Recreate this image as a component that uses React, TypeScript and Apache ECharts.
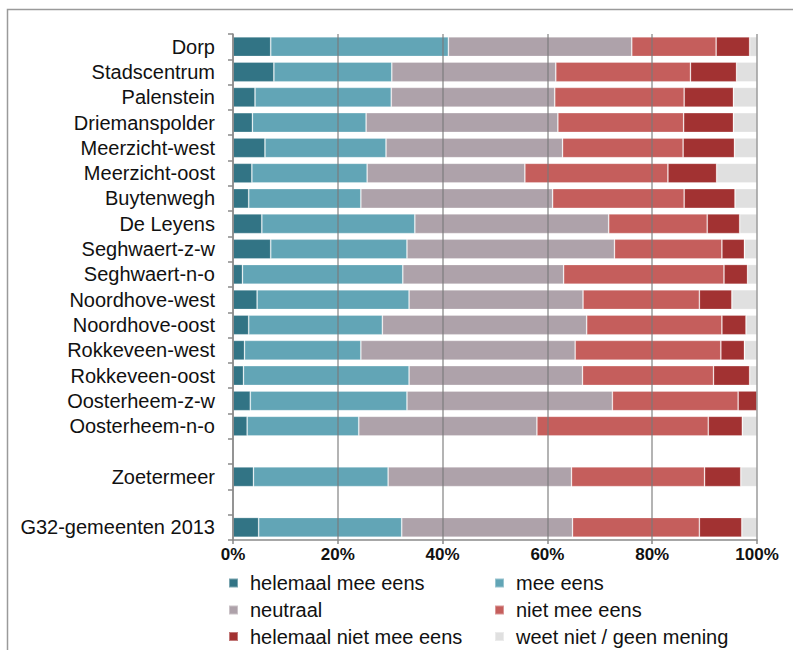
import React, { useEffect, useRef } from "react";
import * as echarts from "echarts";

const CATEGORIES = [
  "Dorp",
  "Stadscentrum",
  "Palenstein",
  "Driemanspolder",
  "Meerzicht-west",
  "Meerzicht-oost",
  "Buytenwegh",
  "De Leyens",
  "Seghwaert-z-w",
  "Seghwaert-n-o",
  "Noordhove-west",
  "Noordhove-oost",
  "Rokkeveen-west",
  "Rokkeveen-oost",
  "Oosterheem-z-w",
  "Oosterheem-n-o",
  "",
  "Zoetermeer",
  " ",
  "G32-gemeenten 2013",
];

const SERIES_NAMES = [
  "helemaal mee eens",
  "mee eens",
  "neutraal",
  "niet mee eens",
  "helemaal niet mee eens",
  "weet niet / geen mening",
];

const helemaalMeeEens = [7.2, 7.8, 4.2, 3.7, 6.1, 3.6, 3.0, 5.5, 7.2, 1.8, 4.6, 3.0, 2.2, 2.0, 3.3, 2.7, null, 3.9, null, 4.9];
const meeEens = [33.9, 22.5, 26.0, 21.7, 23.1, 22.0, 21.4, 29.2, 26.0, 30.6, 29.0, 25.5, 22.2, 31.6, 29.9, 21.3, null, 25.7, null, 27.3];
const neutraal = [35.0, 31.3, 31.2, 36.6, 33.7, 30.1, 36.6, 37.0, 39.6, 30.7, 33.2, 39.0, 40.9, 33.1, 39.2, 34.0, null, 35.0, null, 32.6];
const nietMeeEens = [16.1, 25.7, 24.7, 24.0, 23.0, 27.3, 25.1, 18.8, 20.5, 30.6, 22.2, 25.8, 27.8, 25.0, 24.0, 32.7, null, 25.4, null, 24.2];
const helemaalNietMeeEens = [6.4, 8.8, 9.4, 9.5, 9.8, 9.3, 9.7, 6.2, 4.3, 4.5, 6.2, 4.6, 4.5, 6.9, 3.6, 6.5, null, 6.9, null, 8.1];
const weetNiet = [1.4, 3.9, 4.5, 4.5, 4.3, 7.7, 4.2, 3.3, 2.4, 1.8, 4.8, 2.1, 2.4, 1.4, 0.0, 2.8, null, 3.1, null, 2.9];

const SERIES_VALUES = [helemaalMeeEens, meeEens, neutraal, nietMeeEens, helemaalNietMeeEens, weetNiet];
const COLORS = ["#327485", "#62A5B6", "#AEA2AA", "#C55E5C", "#A23232", "#E0E0E0"];

const X_TICKS = [0, 20, 40, 60, 80, 100];

const FONT = "'Liberation Sans', Arial, Helvetica, sans-serif";

export default function App() {
  const ref = useRef<HTMLDivElement>(null);

  useEffect(() => {
    if (!ref.current) return;
    const chart = echarts.init(ref.current, undefined, { renderer: "svg" });

    const legendPos = [
      { left: 228, top: 573 },
      { left: 494, top: 573 },
      { left: 228, top: 600 },
      { left: 494, top: 600 },
      { left: 228, top: 626.5 },
      { left: 494, top: 626.5 },
    ];

    const option: any = {
      animation: false,
      backgroundColor: "#ffffff",
      textStyle: { fontFamily: FONT },
      graphic: [
        {
          type: "rect",
          shape: { x: 7.5, y: 9.5, width: 820, height: 700 },
          style: { fill: "none", stroke: "#9a9a9a", lineWidth: 1.5 },
          silent: true,
        },
      ],
      legend: SERIES_NAMES.map((name, i) => ({
        data: [name],
        left: legendPos[i].left,
        top: legendPos[i].top,
        padding: 0,
        icon: "rect",
        itemWidth: 9,
        itemHeight: 9,
        selectedMode: false,
        textStyle: {
          fontFamily: FONT,
          fontSize: 20,
          color: "#111",
          padding: [0, 0, 0, 7],
        },
      })),
      grid: {
        left: 233,
        right: 36,
        top: 34,
        bottom: 110,
        containLabel: false,
      },
      xAxis: {
        type: "value",
        min: 0,
        max: 100,
        interval: 20,
        z: 5,
        axisLine: { show: true, lineStyle: { color: "#8a8a8a", width: 1.5 } },
        axisTick: { show: true, length: 4, lineStyle: { color: "#8a8a8a", width: 1.5 } },
        axisLabel: {
          formatter: (v: number) => (X_TICKS.includes(v) ? v + "%" : ""),
          fontFamily: FONT,
          fontSize: 17,
          fontWeight: "bold",
          color: "#111",
          margin: 6,
        },
        splitLine: {
          show: true,
          lineStyle: { color: "#7a7a7a", width: 1.5, opacity: 0.75 },
        },
      },
      yAxis: {
        type: "category",
        inverse: true,
        data: CATEGORIES,
        z: 5,
        axisLine: { show: true, lineStyle: { color: "#8a8a8a", width: 1.5 } },
        axisTick: { show: true, length: 5, alignWithLabel: false, lineStyle: { color: "#8a8a8a", width: 1.5 } },
        axisLabel: {
          fontFamily: FONT,
          fontSize: 20,
          color: "#111",
          margin: 18,
          interval: 0,
        },
        splitLine: { show: false },
      },
      series: SERIES_NAMES.map((name, i) => ({
        name,
        type: "bar",
        stack: "total",
        barCategoryGap: "22%",
        data: SERIES_VALUES[i],
        itemStyle: {
          color: COLORS[i],
          borderColor: "rgba(255,255,255,0.35)",
          borderWidth: 0.8,
        },
        emphasis: { disabled: true },
      })),
    };

    chart.setOption(option);
    return () => chart.dispose();
  }, []);

  return (
    <div
      ref={ref}
      style={{ position: "fixed", left: 0, top: 0, width: 793, height: 650 }}
    />
  );
}
